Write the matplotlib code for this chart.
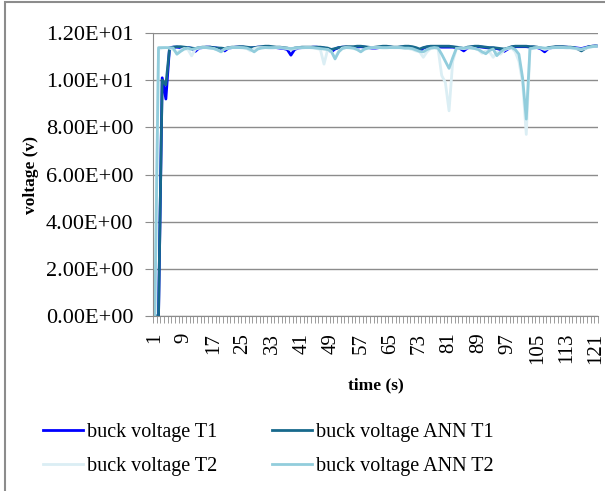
import numpy as np
import matplotlib
matplotlib.use("Agg")
import matplotlib.pyplot as plt
from matplotlib.ticker import FuncFormatter
from matplotlib.patches import Rectangle


# --------------------------------------------------
# DATA
# --------------------------------------------------
time_steps = list(range(1, 122))

buck_t1 = [
    0.00, 0.00, 10.10, 9.20, 11.38, 11.40, 11.40, 11.38, 11.36, 11.38, 11.35,
    11.22, 11.36, 11.38, 11.40, 11.40, 11.38, 11.36, 11.34, 11.24, 11.36, 11.38,
    11.40, 11.40, 11.40, 11.38, 11.36, 11.38, 11.40, 11.40, 11.40, 11.38, 11.38,
    11.38, 11.36, 11.34, 11.30, 11.06, 11.30, 11.36, 11.38, 11.38, 11.38, 11.40,
    11.40, 11.38, 11.36, 11.32, 11.20, 11.32, 11.38, 11.40, 11.40, 11.38, 11.38,
    11.40, 11.42, 11.40, 11.38, 11.36, 11.36, 11.38, 11.40, 11.40, 11.40, 11.38,
    11.38, 11.40, 11.40, 11.40, 11.38, 11.34, 11.22, 11.36, 11.40, 11.42, 11.42,
    11.42, 11.40, 11.40, 11.40, 11.40, 11.38, 11.34, 11.24, 11.36, 11.40, 11.42,
    11.42, 11.40, 11.38, 11.36, 11.36, 11.34, 11.30, 11.22, 11.32, 11.40, 11.42,
    11.42, 11.42, 11.42, 11.40, 11.40, 11.38, 11.32, 11.20, 11.34, 11.38, 11.40,
    11.40, 11.40, 11.40, 11.38, 11.38, 11.36, 11.34, 11.38, 11.42, 11.44, 11.45,
]

buck_ann_t1 = [
    0.00, 0.00, 10.00, 9.80, 11.35, 11.40, 11.42, 11.42, 11.40, 11.38, 11.36,
    11.34, 11.38, 11.40, 11.40, 11.40, 11.38, 11.36, 11.36, 11.34, 11.38, 11.40,
    11.40, 11.42, 11.42, 11.40, 11.38, 11.38, 11.40, 11.42, 11.44, 11.44, 11.42,
    11.40, 11.40, 11.38, 11.36, 11.30, 11.36, 11.38, 11.40, 11.40, 11.40, 11.40,
    11.40, 11.40, 11.38, 11.36, 11.30, 11.34, 11.38, 11.40, 11.42, 11.42, 11.42,
    11.44, 11.44, 11.42, 11.40, 11.38, 11.40, 11.42, 11.44, 11.44, 11.42, 11.40,
    11.40, 11.42, 11.44, 11.44, 11.42, 11.38, 11.32, 11.38, 11.42, 11.44, 11.44,
    11.44, 11.44, 11.44, 11.44, 11.42, 11.40, 11.38, 11.34, 11.40, 11.42, 11.44,
    11.44, 11.42, 11.40, 11.38, 11.38, 11.36, 11.34, 11.32, 11.36, 11.42, 11.44,
    11.44, 11.44, 11.44, 11.42, 11.42, 11.40, 11.36, 11.32, 11.38, 11.40, 11.42,
    11.42, 11.42, 11.40, 11.40, 11.38, 11.32, 11.24, 11.34, 11.42, 11.44, 11.45,
]

buck_t2 = [
    0.00, 11.30, 11.36, 11.38, 11.36, 11.30, 11.15, 11.28, 11.34, 11.30, 11.03,
    11.30, 11.36, 11.38, 11.38, 11.36, 11.34, 11.28, 11.22, 11.32, 11.36, 11.38,
    11.38, 11.38, 11.36, 11.34, 11.24, 11.34, 11.38, 11.38, 11.38, 11.36, 11.36,
    11.38, 11.38, 11.36, 11.34, 11.30, 11.34, 11.36, 11.36, 11.38, 11.38, 11.36,
    11.34, 11.30, 10.68, 11.30, 11.20, 10.95, 11.22, 11.36, 11.38, 11.36, 11.34,
    11.30, 11.22, 11.30, 11.36, 11.38, 11.38, 11.38, 11.36, 11.36, 11.38, 11.38,
    11.38, 11.36, 11.34, 11.34, 11.30, 11.24, 11.20, 10.97, 11.20, 11.34, 11.36,
    11.35, 10.20, 9.90, 8.70, 10.80, 11.34, 11.36, 11.34, 11.36, 11.38, 11.34,
    11.28, 11.14, 11.24, 11.20, 10.97, 11.18, 11.10, 11.28, 11.34, 11.36, 11.20,
    10.80, 9.90, 7.70, 11.30, 11.36, 11.38, 11.36, 11.30, 11.34, 11.36, 11.38,
    11.38, 11.38, 11.36, 11.36, 11.34, 11.32, 11.30, 11.34, 11.38, 11.42, 11.44,
]

buck_ann_t2 = [
    0.00, 11.38, 11.38, 11.38, 11.38, 11.36, 11.10, 11.22, 11.32, 11.36, 11.30,
    11.34, 11.38, 11.38, 11.38, 11.36, 11.34, 11.28, 11.20, 11.32, 11.36, 11.38,
    11.38, 11.38, 11.38, 11.36, 11.30, 11.20, 11.32, 11.36, 11.38, 11.38, 11.38,
    11.38, 11.38, 11.36, 11.36, 11.34, 11.36, 11.38, 11.38, 11.38, 11.38, 11.38,
    11.36, 11.34, 11.32, 11.30, 11.22, 10.90, 11.20, 11.34, 11.38, 11.38, 11.36,
    11.30, 11.20, 11.32, 11.36, 11.38, 11.38, 11.38, 11.38, 11.38, 11.38, 11.38,
    11.38, 11.38, 11.36, 11.36, 11.34, 11.28, 11.22, 11.20, 11.30, 11.36, 11.38,
    11.36, 11.10, 10.80, 10.50, 10.95, 11.35, 11.36, 11.36, 11.38, 11.36, 11.34,
    11.30, 11.20, 11.12, 11.26, 11.32, 11.04, 11.20, 11.30, 11.36, 11.38, 11.30,
    11.10, 10.10, 8.35, 11.34, 11.36, 11.38, 11.38, 11.36, 11.36, 11.38, 11.38,
    11.38, 11.38, 11.38, 11.38, 11.36, 11.34, 11.32, 11.36, 11.40, 11.42, 11.44,
]

tick_labels = [str(t) for t in range(1, 122, 8)]


def main():
    plt.rcParams["font.family"] = ["Liberation Serif", "DejaVu Serif"]

    fig = plt.figure(figsize=(6.05, 4.91), dpi=100)
    ax = fig.add_axes([0.2529, 0.3564, 0.7355, 0.5764])

    # --------------------------------------------------
    # LINES
    # --------------------------------------------------
    ax.plot(time_steps, buck_t1, color="#0000ff", lw=2, label="buck voltage T1")
    ax.plot(time_steps, buck_ann_t1, color="#17698c", lw=2, label="buck voltage ANN T1")
    ax.plot(time_steps, buck_t2, color="#dbeef4", lw=2, label="buck voltage T2")
    ax.plot(time_steps, buck_ann_t2, color="#92cddc", lw=2, label="buck voltage ANN T2")

    # --------------------------------------------------
    # AXES
    # --------------------------------------------------
    ax.set_xlim(0.5, 121.5)
    ax.set_ylim(0, 12)
    ax.set_yticks(np.arange(0, 12.1, 2))
    ax.yaxis.set_major_formatter(FuncFormatter(lambda v, p: f"{v:.2E}"))
    ax.grid(axis="y", color="#8c8c8c", lw=1)
    ax.set_axisbelow(True)

    ax.set_xticks([int(s) for s in tick_labels])
    ax.set_xticklabels(tick_labels, rotation=90)
    ax.set_xticks(np.arange(0.5, 122, 1), minor=True)
    ax.tick_params(axis="x", which="major", length=0, pad=12, labelsize=15)
    ax.tick_params(axis="x", which="minor", length=5, color="#8c8c8c")
    ax.tick_params(axis="y", length=6, color="#8c8c8c", labelsize=16, pad=8)

    for side in ["top", "right"]:
        ax.spines[side].set_visible(False)
    for side in ["left", "bottom"]:
        ax.spines[side].set_color("#8c8c8c")

    ax.set_xlabel("time (s)", fontsize=12.5, fontweight="bold", labelpad=10)
    ax.set_ylabel("voltage (v)", fontsize=12.5, fontweight="bold", labelpad=5)

    # --------------------------------------------------
    # LEGEND + BORDER
    # --------------------------------------------------
    h, l = ax.get_legend_handles_labels()
    order = [0, 2, 1, 3]
    fig.legend([h[i] for i in order], [l[i] for i in order], ncol=2,
               loc="center", bbox_to_anchor=(0.443, 0.085), frameon=False,
               fontsize=14.5, handlelength=2.0, handletextpad=0.2,
               columnspacing=2.7, labelspacing=0.75)

    fig.patches.append(Rectangle((0.009, -0.1), 1.1, 1.095, transform=fig.transFigure,
                                 fill=False, edgecolor="#8c8c8c", lw=1.5))

    fig.savefig("out.png", dpi=100)


if __name__ == "__main__":
    main()
